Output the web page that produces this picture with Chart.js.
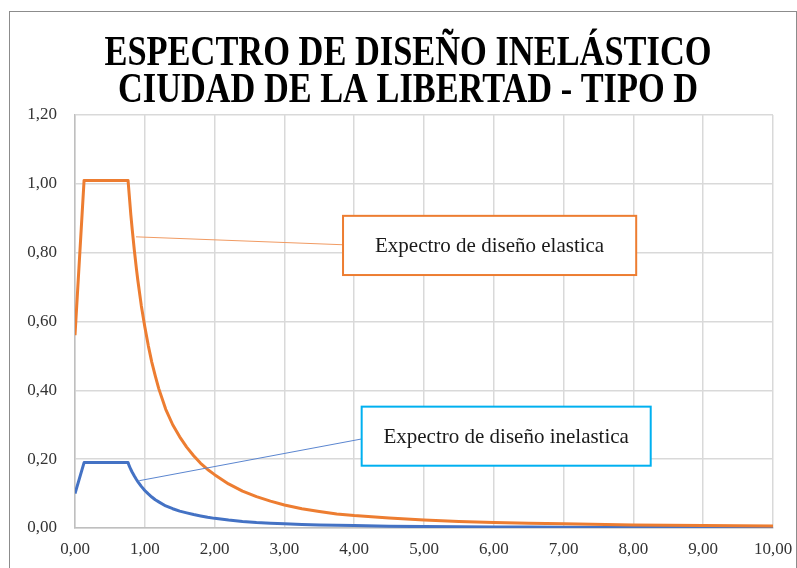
<!DOCTYPE html>
<html>
<head>
<meta charset="utf-8">
<script src="https://cdn.jsdelivr.net/npm/chart.js@4.4.1/dist/chart.umd.min.js"></script>
<style>
  html, body { margin: 0; padding: 0; background: #fff; }
  #wrap { position: relative; width: 797px; height: 568px; }
</style>
</head>
<body>
<div id="wrap"><canvas id="chart" width="797" height="568"></canvas></div>
<script>
// Period T (s) and spectral values.
const periods = [0, 0.13, 0.76, 0.78, 0.80, 0.82, 0.85, 0.88, 0.90, 0.95, 1.00, 1.05, 1.10, 1.15, 1.20,
  1.30, 1.40, 1.50, 1.60, 1.70, 1.80, 1.90, 2.00, 2.20, 2.40, 2.60, 2.80, 3.00, 3.25, 3.50, 3.75,
  4.00, 4.50, 5.00, 5.50, 6.00, 6.50, 7.00, 8.00, 9.00, 10.00];
const elastic = [0.56, 1.01, 1.01, 0.96, 0.91, 0.867, 0.807, 0.753, 0.72, 0.646, 0.585, 0.53, 0.482, 0.442, 0.405,
  0.345, 0.30, 0.265, 0.235, 0.21, 0.188, 0.17, 0.155, 0.128, 0.107, 0.091, 0.078, 0.067, 0.056, 0.048, 0.041,
  0.036, 0.029, 0.023, 0.019, 0.016, 0.014, 0.012, 0.009, 0.007, 0.006];
const inelastic = [0.10, 0.19, 0.19, 0.179, 0.170, 0.162, 0.151, 0.141, 0.135, 0.121, 0.109, 0.099, 0.090, 0.082, 0.076,
  0.064, 0.056, 0.049, 0.044, 0.039, 0.035, 0.031, 0.028, 0.023, 0.019, 0.016, 0.014, 0.012, 0.010, 0.009, 0.008,
  0.007, 0.005, 0.004, 0.0036, 0.003, 0.0026, 0.0022, 0.0017, 0.0013, 0.0011];
const xTicks = [0, 1, 2, 3, 4, 5, 6, 7, 8, 9, 10];
const yTicks = [0, 0.2, 0.4, 0.6, 0.8, 1.0, 1.2];
const titleLines = ['ESPECTRO DE DISEÑO INELÁSTICO', 'CIUDAD DE LA LIBERTAD - TIPO D'];
const calloutLabels = ['Expectro de diseño elastica', 'Expectro de diseño inelastica'];

const ORANGE = '#ED7D31';
const BLUE = '#4472C4';
const comma = (v) => v.toFixed(2).replace('.', ',');

// Callouts are anchored in data units so they follow the axes.
const callouts = [
  { text: calloutLabels[0], border: '#ED7D31', lead: '#F19B63',
    from: [0.874, 0.846], to: [3.84, 0.823], box: [3.84, 0.907, 8.04, 0.735] },
  { text: calloutLabels[1], border: '#00B0F0', lead: '#5B86D0',
    from: [0.921, 0.1375], to: [4.107, 0.2587], box: [4.107, 0.3526, 8.248, 0.181] },
];

const decor = {
  id: 'decor',
  beforeDraw(chart) {
    const { ctx } = chart;
    ctx.save();
    ctx.fillStyle = '#fff';
    ctx.fillRect(0, 0, chart.width, chart.height);
    ctx.strokeStyle = '#8c8c8c';
    ctx.lineWidth = 1;
    ctx.strokeRect(9.5, 11.5, 787, 600);
    ctx.restore();
  },
  afterDatasetsDraw(chart) {
    const { ctx } = chart;
    const sx = chart.scales.x, sy = chart.scales.y;
    const px = (v) => sx.getPixelForValue(v);
    const py = (v) => sy.getPixelForValue(v);
    ctx.save();
    callouts.forEach((c) => {
      ctx.strokeStyle = c.lead;
      ctx.lineWidth = 1;
      ctx.beginPath();
      ctx.moveTo(px(c.from[0]), py(c.from[1]));
      ctx.lineTo(px(c.to[0]), py(c.to[1]));
      ctx.stroke();

      const x0 = px(c.box[0]), y0 = py(c.box[1]), x1 = px(c.box[2]), y1 = py(c.box[3]);
      ctx.fillStyle = '#fff';
      ctx.fillRect(x0, y0, x1 - x0, y1 - y0);
      ctx.strokeStyle = c.border;
      ctx.lineWidth = 2;
      ctx.strokeRect(x0, y0, x1 - x0, y1 - y0);

      ctx.fillStyle = '#1a1a1a';
      ctx.font = '21px "Liberation Serif"';
      ctx.textAlign = 'center';
      ctx.textBaseline = 'middle';
      ctx.fillText(c.text, (x0 + x1) / 2, (y0 + y1) / 2 + 1);
    });
    ctx.restore();
  },
  afterDraw(chart) {
    const { ctx } = chart;
    ctx.save();
    ctx.fillStyle = '#000';
    ctx.font = 'bold 42px "Liberation Serif"';
    ctx.textAlign = 'center';
    ctx.textBaseline = 'alphabetic';
    ctx.fillText(titleLines[0], 408, 65, 607);
    ctx.fillText(titleLines[1], 408, 102, 580);
    ctx.restore();
  },
};

const tickFont = { family: '"Liberation Serif"', size: 17 };

new Chart(document.getElementById('chart'), {
  type: 'line',
  data: {
    labels: periods,
    datasets: [
      {
        label: 'Elástico',
        data: periods.map((t, i) => ({ x: t, y: elastic[i] })),
        borderColor: ORANGE,
        borderWidth: 3,
        pointRadius: 0,
        tension: 0,
        borderJoinStyle: 'round',
        fill: false,
      },
      {
        label: 'Inelástico',
        data: periods.map((t, i) => ({ x: t, y: inelastic[i] })),
        borderColor: BLUE,
        borderWidth: 3,
        pointRadius: 0,
        tension: 0,
        borderJoinStyle: 'round',
        fill: false,
      },
    ],
  },
  options: {
    responsive: false,
    animation: false,
    devicePixelRatio: 1,
    layout: { padding: { top: 115, right: 24, left: 0, bottom: 0 } },
    plugins: {
      legend: { display: false },
      title: { display: false },
      tooltip: { enabled: false },
    },
    scales: {
      x: {
        type: 'linear',
        min: 0,
        max: 10,
        afterBuildTicks: (s) => { s.ticks = xTicks.map((v) => ({ value: v })); },
        afterFit: (s) => { s.height = 40; s.paddingLeft = 0; s.paddingRight = 0; },
        ticks: { font: tickFont, color: '#333333', padding: 11, maxRotation: 0, callback: (v) => comma(v) },
        grid: { color: '#d9d9d9', lineWidth: 1.5, drawTicks: false },
        border: { color: '#bfbfbf', width: 1.5 },
      },
      y: {
        min: 0,
        max: 1.2,
        afterBuildTicks: (s) => { s.ticks = yTicks.map((v) => ({ value: v })); },
        afterFit: (s) => { s.width = 75; s.paddingTop = 0; s.paddingBottom = 0; },
        ticks: { font: tickFont, color: '#333333', padding: 18, callback: (v) => comma(v) },
        grid: { color: '#d9d9d9', lineWidth: 1.5, drawTicks: false },
        border: { color: '#bfbfbf', width: 1.5 },
      },
    },
  },
  plugins: [decor],
});
</script>
</body>
</html>
